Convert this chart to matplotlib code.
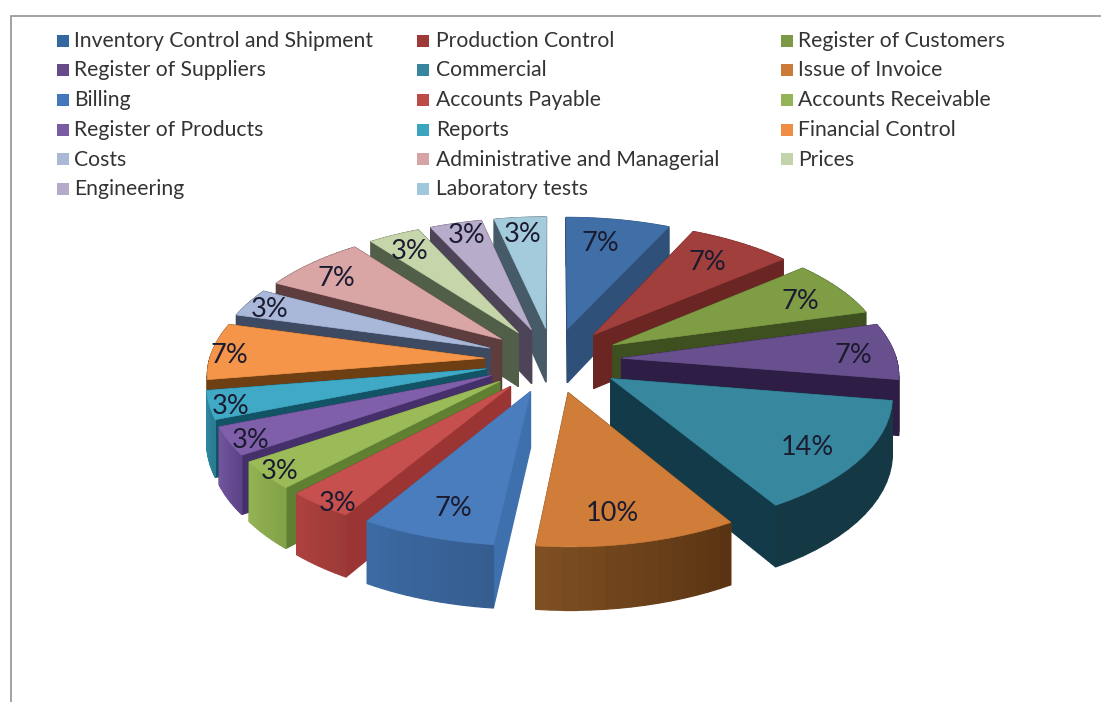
import numpy as np
import matplotlib
matplotlib.use('Agg')
import matplotlib.pyplot as plt
from matplotlib.colors import to_rgb
from matplotlib.patches import Polygon, Rectangle

modules = ['Inventory Control and Shipment', 'Production Control', 'Register of Customers',
           'Register of Suppliers', 'Commercial', 'Issue of Invoice',
           'Billing', 'Accounts Payable', 'Accounts Receivable',
           'Register of Products', 'Reports', 'Financial Control',
           'Costs', 'Administrative and Managerial', 'Prices',
           'Engineering', 'Laboratory tests']
counts = [2, 2, 2, 2, 4, 3, 2, 1, 1, 1, 1, 2, 1, 2, 1, 1, 1]

top_colors = ['#3f6fa6', '#a03f3c', '#7f9d45', '#68508e', '#37889f', '#cf7d38',
              '#4a7dbe', '#c5504d', '#9bbb59', '#7f5fa9', '#3fa9c6', '#f5954a',
              '#a9b8d8', '#d9a5a5', '#c6d6aa', '#b8accb', '#a4cbdc']
legend_colors = ['#34689f', '#9d3a38', '#7c9a45', '#664a8a', '#35869e', '#cb7a37',
                 '#4478bd', '#bd4b48', '#93b456', '#7a5ca3', '#3ba5c0', '#ee8d43',
                 '#a9b8d5', '#d5a5a5', '#c3d3aa', '#b5aac8', '#a0c8da']
radial_colors = ['#2f5079', '#6b2523', '#3e5020', '#2e1e45', '#123a48', '#7a4a1d',
                 '#3f70ae', '#9a3533', '#5f8033', '#46306b', '#125366', '#6e3f12',
                 '#3e4a62', '#5d3d3d', '#515e48', '#4d4458', '#465a68']
outer_left = ['#2f5079', '#6b2523', '#3e5020', '#2e1e45', '#143844', '#7e4f22',
              '#3c6aa3', '#ae413e', '#94b353', '#7357a0', '#2e8aa3', '#6e3f12',
              '#3e4a62', '#5d3d3d', '#515e48', '#4d4458', '#465a68']
outer_right = ['#2f5079', '#6b2523', '#3e5020', '#2e1e45', '#143844', '#5a3412',
               '#355d90', '#9c3a37', '#84a349', '#5d4488', '#2a7c93', '#6e3f12',
               '#3e4a62', '#5d3d3d', '#515e48', '#4d4458', '#465a68']
# how far out along its slice each percentage sits, plus a small shift in pixels
label_r = [0.8, 0.8, 0.8, 0.86, 0.78, 0.8, 0.8, 1.0, 1.0, 0.98, 0.96, 0.9,
           0.93, 0.86, 0.86, 0.88, 0.86]
label_dx = [-9, -6, 5, -2, 4, -10, 4, 18, 14, 16, 10, -10, 5, -1, -1, 3, -1]
label_dy = [4, 2, 2, 3, 7, 4, 4, -1, -4, 1, 3, 4, 4, 5, 4, 0, 3]

# pie geometry in figure pixels
cx, cy = 553, 360
radius_x = 275
radius_y = 130
persp = 0.108
depth = 55
explode = 0.25


def project(x, y, z=0.0):
    w = 1 + persp * y
    return cx + radius_x * x / w, cy - radius_y * y / w + depth * z / w


def sector(mid, start, stop, r=1.0, n=16):
    t = np.radians(np.linspace(start, stop, n))
    ox = explode * np.sin(np.radians(mid))
    oy = explode * np.cos(np.radians(mid))
    return ox + r * np.sin(t), oy + r * np.cos(t), ox, oy


def blend(c1, c2, f):
    a, b = np.array(to_rgb(c1)), np.array(to_rgb(c2))
    return tuple(a + (b - a) * f)


def draw_quad(ax, xs, ys, color, zorder):
    sx1, sy1 = project(xs[0], ys[0])
    sx2, sy2 = project(xs[1], ys[1])
    bx2, by2 = project(xs[1], ys[1], 1)
    bx1, by1 = project(xs[0], ys[0], 1)
    ax.add_patch(Polygon([(sx1, sy1), (sx2, sy2), (bx2, by2), (bx1, by1)], closed=True,
                         facecolor=color, edgecolor=color, lw=0.9, zorder=zorder))


fig = plt.figure(figsize=(11.01, 7.02), dpi=100)
ax = fig.add_axes([0, 0, 1, 1])
ax.set_xlim(0, 1101)
ax.set_ylim(702, 0)
ax.axis('off')

# chart frame, open to the right and below
ax.plot([10.5, 10.5, 1101], [702, 15.5, 15.5], color='#929292', lw=1.2, solid_joinstyle='miter')

fractions = np.array(counts) / sum(counts)
stops = np.cumsum(fractions) * 360
starts = stops - fractions * 360
mids = (starts + stops) / 2

order = np.argsort(-np.cos(np.radians(mids)))
z = 2
for i in order:
    xs, ys, ox, oy = sector(mids[i], starts[i], stops[i])
    # walls of one slice, far ones first so the near ones cover them
    walls = [([ox, xs[0]], [oy, ys[0]], radial_colors[i]),
             ([ox, xs[-1]], [oy, ys[-1]], radial_colors[i])]
    for k in range(len(xs) - 1):
        # left end of the arc on screen takes outer_left
        f = k / (len(xs) - 2)
        if xs[0] < xs[-1]:
            col = blend(outer_left[i], outer_right[i], f)
        else:
            col = blend(outer_right[i], outer_left[i], f)
        walls.append((xs[k:k + 2], ys[k:k + 2], col))
    walls.sort(key=lambda w: -np.mean(w[1]))
    for wx, wy, col in walls:
        draw_quad(ax, wx, wy, col, z)
        z += 1
    px, py = project(np.r_[ox, xs], np.r_[oy, ys])
    ax.add_patch(Polygon(np.c_[px, py], closed=True, facecolor=top_colors[i],
                         edgecolor=top_colors[i], lw=0.5, zorder=z))
    z += 1

# percentage labels sit on the top faces
for i in range(len(counts)):
    lx, ly, _, _ = sector(mids[i], mids[i], mids[i], r=label_r[i], n=1)
    tx, ty = project(lx[0], ly[0])
    ax.text(tx + label_dx[i], ty + label_dy[i], f'{round(fractions[i] * 100)}%', ha='center',
            va='center', fontsize=19.5, color='#1b1b30', family='Lato', zorder=z + 1)

# legend, filled row by row in three columns
square_x = [56.5, 417, 781]
text_x = [74, 436, 798]
rows = [40.5, 70, 100, 129.5, 159, 188.5]
for i, name in enumerate(modules):
    row, col = divmod(i, 3)
    ax.add_patch(Rectangle((square_x[col], rows[row] - 6), 12, 12, facecolor=legend_colors[i],
                           edgecolor='none', zorder=z))
    ax.text(text_x[col], rows[row] + 6.5, name, ha='left', va='baseline', fontsize=15.2,
            color='#333333', family='Lato', zorder=z)

plt.savefig('out.png', dpi=100)
